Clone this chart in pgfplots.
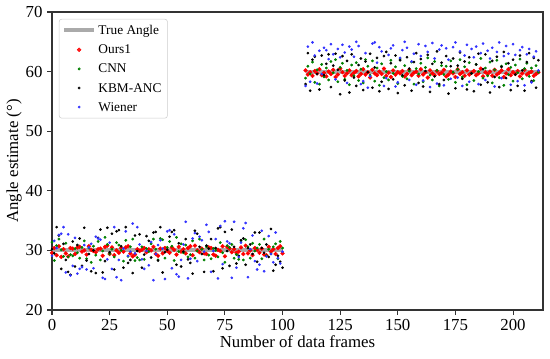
\documentclass[border=0pt]{standalone}
\usepackage{pgfplots}
\usepackage{pgfplotstable}
\pgfplotsset{compat=1.18}
\usepackage{fontspec}
\setmainfont{Liberation Serif}
\definecolor{trueg}{RGB}{170,170,170}
\definecolor{mgreen}{RGB}{0,128,0}
\definecolor{mblue}{RGB}{50,50,255}
\pgfplotstableread{
x o c k w
0 29.6 31.4 30.2 29.1
1 30.4 28.3 29.5 31.6
2 29.2 30.8 33.9 30.4
3 30.7 31.9 32.5 32.6
4 28.9 30.1 26.9 32.8
5 30.2 29.0 31.1 33.9
6 29.5 31.2 28.4 26.3
7 29.0 28.9 26.4 32.7
8 30.4 29.3 25.9 25.8
9 30.3 29.1 31.5 27.4
10 29.4 30.3 27.3 32.1
11 30.5 29.6 30.9 26.1
12 30.6 28.7 32.0 26.9
13 29.8 30.5 27.4 27.2
14 30.0 31.6 33.8 30.9
15 29.3 28.6 28.3 26.8
16 30.7 30.4 29.4 30.5
17 30.1 28.0 26.5 31.1
18 29.9 30.7 30.0 27.0
19 29.7 29.2 26.2 32.3
20 30.2 31.5 32.1 32.0
21 30.3 28.4 33.5 31.8
22 29.1 29.9 26.3 25.4
23 30.6 32.2 28.2 25.2
24 30.8 31.0 33.8 28.5
25 29.4 29.4 29.7 31.3
26 30.5 30.2 32.8 26.9
27 29.2 28.9 26.8 33.9
28 30.0 31.3 33.2 25.5
29 29.6 30.9 33.4 28.4
30 30.4 30.0 30.7 25.0
31 29.8 28.2 27.1 30.3
32 30.5 31.7 33.9 33.2
33 30.7 29.0 27.9 29.1
34 29.5 30.6 28.4 29.8
35 29.0 31.9 26.2 34.5
36 29.3 28.3 32.5 29.5
37 30.2 28.8 29.9 33.9
38 29.9 28.4 32.7 31.0
39 30.1 30.6 27.1 28.5
40 30.4 28.5 29.3 26.9
41 29.7 30.3 32.4 29.9
42 30.2 29.8 31.6 27.5
43 30.0 31.1 28.8 31.4
44 30.6 31.9 33.0 25.0
45 29.4 30.2 33.1 29.4
46 29.1 28.4 28.3 30.9
47 30.3 32.0 33.9 31.7
48 29.5 31.8 26.3 30.3
49 30.4 28.7 29.7 25.2
50 29.9 30.5 30.1 33.2
51 29.6 31.5 32.3 33.4
52 30.5 30.7 33.1 27.0
53 30.1 28.3 33.4 32.7
54 29.3 32.2 27.6 26.0
55 30.6 29.8 31.2 25.6
56 29.8 31.1 27.3 28.4
57 30.2 29.6 29.8 31.0
58 29.5 30.9 31.9 34.8
59 30.4 28.9 28.5 25.3
60 30.7 29.3 27.9 28.6
61 29.2 31.6 26.1 32.0
62 30.8 28.7 33.3 32.9
63 30.0 29.9 32.8 28.2
64 29.7 31.9 30.6 32.3
65 30.3 30.2 29.4 31.7
66 29.5 28.4 26.4 29.8
67 29.4 30.6 30.8 34.3
68 30.5 29.2 30.3 33.1
69 30.4 28.6 31.9 26.4
70 29.3 30.3 26.5 29.9
71 29.1 30.0 30.4 31.9
72 30.1 28.9 33.7 25.3
73 29.9 31.3 33.9 34.1
74 30.7 29.6 27.0 27.7
75 29.0 28.0 33.1 34.9
76 30.6 30.8 29.9 31.5
77 30.3 30.5 27.4 31.2
78 29.7 31.0 33.5 25.4
79 30.2 28.7 30.6 34.8
80 29.6 29.3 27.8 27.1
81 29.8 28.5 29.1 28.9
82 30.5 31.6 31.7 31.3
83 29.4 28.4 32.0 33.7
84 30.8 31.8 27.6 34.6
85 29.5 30.6 30.4 25.5
86 30.0 28.7 31.0 30.2
87 29.2 31.2 29.4 32.5
88 30.4 29.9 33.0 28.2
89 30.1 30.4 28.1 26.8
90 29.6 31.0 33.0 27.6
91 30.3 28.6 30.4 33.3
92 29.3 31.9 29.6 26.5
93 29.2 29.1 31.0 29.0
94 30.6 30.2 28.9 32.4
95 29.8 29.4 33.6 29.4
96 30.2 30.6 26.6 28.0
97 29.4 31.1 27.6 33.0
98 30.4 28.6 29.1 28.7
99 30.7 31.5 28.1 27.8
100 29.5 30.4 27.1 29.8
110 60.2 58.9 57.9 57.6
111 59.5 60.9 63.1 64.2
112 59.9 59.6 56.8 58.3
113 59.3 61.6 62.0 64.9
114 60.1 58.2 62.5 62.7
115 59.7 60.3 59.6 58.0
116 60.4 57.9 57.0 63.5
117 59.4 61.2 62.7 59.6
118 59.8 59.1 59.4 64.0
119 59.2 60.6 61.3 63.6
120 60.0 58.6 62.9 62.1
121 59.6 61.7 57.4 64.6
122 60.3 59.8 61.0 62.9
123 59.1 62.0 63.0 58.7
124 59.5 58.3 60.3 63.8
125 60.5 60.7 56.2 62.4
126 59.9 61.4 62.6 64.5
127 59.3 58.7 58.5 63.2
128 59.7 60.2 61.8 58.1
129 60.2 57.8 56.5 64.2
130 59.4 61.1 62.9 63.7
131 59.8 59.3 59.0 62.5
132 60.1 61.5 57.6 65.0
133 59.2 58.5 61.1 64.3
134 59.6 60.4 62.2 57.9
135 60.4 58.1 56.9 58.4
136 59.5 62.0 61.7 63.1
137 59.9 60.9 59.9 57.3
138 59.0 59.4 63.0 59.2
139 60.3 61.8 57.3 64.7
140 59.7 58.4 60.7 64.9
141 59.4 60.6 62.3 61.5
142 60.0 57.7 56.7 64.1
143 59.6 61.3 58.3 63.4
144 60.5 59.0 62.6 57.6
145 59.3 60.0 63.3 58.9
146 59.8 58.6 57.1 62.8
147 59.1 61.9 61.4 63.9
148 60.2 59.7 58.7 64.4
149 59.5 60.8 62.7 57.5
150 59.9 58.0 56.4 58.2
151 59.7 62.1 61.9 62.3
152 60.1 59.2 59.4 63.6
153 59.2 61.0 57.7 65.0
154 59.6 58.8 62.4 64.0
155 60.3 60.1 60.5 58.6
156 59.4 61.6 56.8 61.7
157 59.8 57.9 61.6 63.0
158 60.0 60.5 63.1 57.8
159 59.3 59.6 58.1 64.6
160 60.4 61.4 62.1 62.6
161 59.5 58.3 57.5 58.5
162 59.9 60.7 60.1 64.3
163 59.0 62.3 62.8 63.3
164 60.2 59.4 56.6 57.4
165 59.7 58.6 61.3 64.8
166 59.4 61.7 59.2 62.2
167 60.1 60.2 63.4 58.0
168 59.6 57.6 57.9 63.7
169 59.8 61.0 61.5 64.4
170 60.3 59.5 58.6 57.7
171 59.2 60.9 62.6 63.9
172 59.5 58.7 56.3 62.0
173 60.0 61.8 60.9 58.8
174 59.7 59.9 62.2 64.1
175 59.1 58.2 57.2 64.9
176 60.4 60.4 61.0 59.0
177 59.6 62.0 63.2 63.4
178 59.9 59.1 58.8 57.6
179 59.3 60.8 61.7 62.7
180 60.2 57.8 57.0 64.5
181 59.5 61.5 62.4 58.3
182 59.8 59.7 59.7 63.8
183 60.1 58.5 56.7 62.4
184 59.4 61.2 61.2 64.2
185 59.7 60.0 63.0 57.9
186 60.5 62.2 57.8 63.1
187 59.2 58.9 60.4 64.7
188 59.9 60.6 62.9 58.6
189 59.6 59.3 58.2 63.5
190 60.0 61.6 56.5 62.2
191 59.3 58.1 61.8 64.0
192 60.3 60.3 59.1 57.5
193 59.5 61.9 62.5 63.3
194 59.8 59.0 57.4 64.9
195 60.2 60.9 60.8 58.9
196 59.1 57.7 63.3 62.6
197 59.7 61.3 58.9 64.3
198 60.4 59.5 61.4 63.0
199 59.4 60.7 56.9 57.8
200 59.9 58.4 62.0 64.6
201 59.6 61.1 59.5 62.8
202 60.1 59.8 57.6 58.4
203 59.2 62.1 62.7 63.6
204 59.7 58.8 60.2 64.1
205 60.3 60.5 56.8 57.7
206 59.5 61.4 61.6 62.9
207 59.8 59.2 63.1 63.8
208 60.0 60.6 58.4 58.2
209 59.3 58.5 62.3 62.5
210 59.6 61.0 57.3 63.4
211 59.9 59.9 61.9 60.2
}\datatab
\begin{document}
\begin{tikzpicture}
\begin{axis}[
  at={(0pt,0pt)}, anchor=south west,
  scale only axis,
  width=368.25pt, height=223.5pt,
  xmin=0, xmax=213, ymin=20, ymax=70,
  xtick={0,25,...,200}, ytick={20,30,...,70},
  tick pos=left, tick align=outside,
  major tick length=3.6pt,
  every tick/.style={black!80, line width=0.8pt},
  axis line style={black!80, line width=0.8pt},
  ticklabel style={font=\fontsize{12.6}{14}\selectfont},
  /pgf/number format/assume math mode=true,
  label style={font=\fontsize{12.6}{14}\selectfont},
  xlabel={Number of data frames},
  ylabel={Angle estimate (°)},
  xlabel style={yshift=3pt},
  ylabel style={yshift=-4pt},
  unbounded coords=jump,
  legend cell align=left,
  legend image code/.code={\draw[mark repeat=2,mark phase=2,#1] plot coordinates {(0pt,0pt)(11pt,0pt)(22pt,0pt)};},
  legend style={at={(0.014,0.977)}, anchor=north west,
    draw=black!20, rounded corners=2pt, fill=white, fill opacity=0.85, text opacity=1,
    font=\fontsize{10}{11}\selectfont,
    inner xsep=2.5pt, inner ysep=2.8pt, row sep=3.2pt,
    nodes={inner sep=2pt, text depth=0.5pt},
    /tikz/every even column/.append style={column sep=4pt}},
]
\addplot[trueg, line width=3pt, mark=none] coordinates {(0,30) (100,30) (105,nan) (110,60) (211.5,60)};
\addlegendentry{True Angle}
\addplot[only marks, mark=*, mark size=1.4pt, red, mark options={draw=none, fill=red}] table[x=x, y=o] {\datatab};
\addlegendentry{Ours1}
\addplot[only marks, mark=*, mark size=0.85pt, mgreen, mark options={draw=none, fill=mgreen}] table[x=x, y=c] {\datatab};
\addlegendentry{CNN}
\addplot[only marks, mark=*, mark size=0.8pt, black, mark options={draw=none, fill=black}] table[x=x, y=k] {\datatab};
\addlegendentry{KBM-ANC}
\addplot[only marks, mark=*, mark size=0.8pt, mblue, mark options={draw=none, fill=mblue}] table[x=x, y=w] {\datatab};
\addlegendentry{Wiener}
\end{axis}
\pgfresetboundingbox
\path[use as bounding box] (-39pt,-36pt) rectangle (373.5pt,232.5pt);
\end{tikzpicture}
\end{document}
